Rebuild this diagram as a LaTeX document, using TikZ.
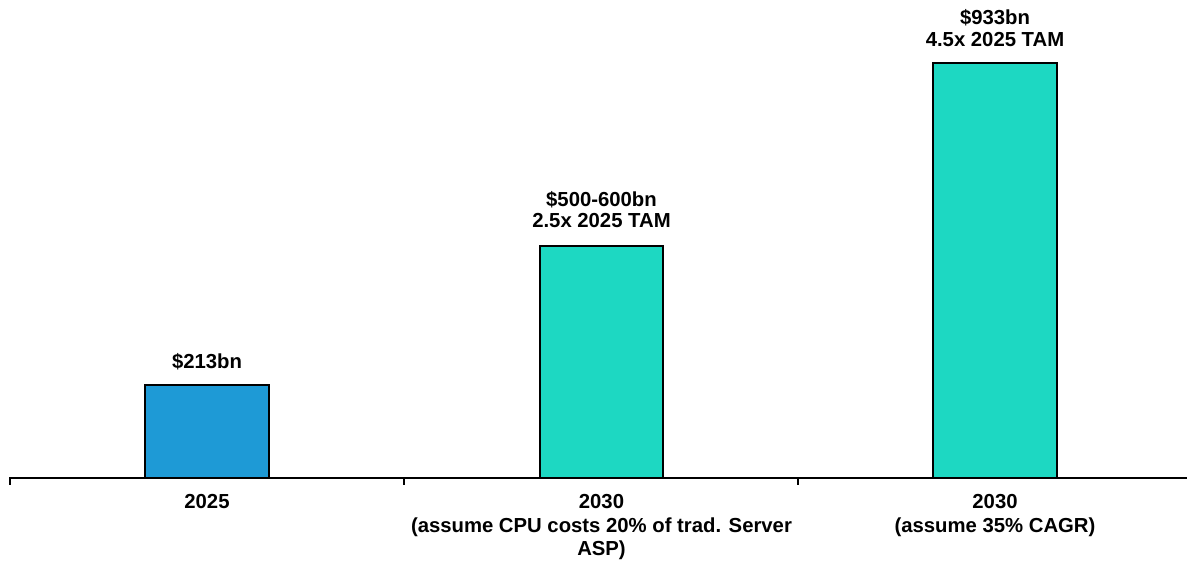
\documentclass[tikz,border=0pt]{standalone}
\usepackage{fontspec}
\setmainfont{Liberation Sans}
\definecolor{barblue}{HTML}{1E9AD6}
\definecolor{barteal}{HTML}{1DD8C2}
\begin{document}
\begin{tikzpicture}[x=1pt,y=-1pt,
  bar/.style={draw=black,line width=2pt},
  vallabel/.style={font=\fontsize{20.3}{21.5}\selectfont\bfseries,align=center,anchor=south,inner sep=0pt,text depth=0pt},
  catlabel/.style={font=\fontsize{20.3}{23.5}\selectfont\bfseries,align=center,anchor=north,inner sep=0pt},
  axisline/.style={line width=2pt}]
\useasboundingbox[fill=white] (0,0) rectangle (1187,562);
% bars
\filldraw[bar,fill=barblue] (145,478) rectangle (269,385);
\filldraw[bar,fill=barteal] (540,478) rectangle (663,246);
\filldraw[bar,fill=barteal] (933,478) rectangle (1057,63);
\coordinate (b1) at (207,385);
\coordinate (b2) at (601.5,246);
\coordinate (b3) at (995,63);
% value labels
\node[vallabel] (v1) at ([yshift=16pt]b1) {\$213bn};
\node[vallabel] (v2) at ([yshift=18pt]b2) {\$500-600bn\\2.5x 2025 TAM};
\node[vallabel] (v3) at ([yshift=16.5pt]b3) {\$933bn\\4.5x 2025 TAM};
% category axis
\draw[axisline] (10,478) -- (1187,478);
\foreach \x in {10,404,798} \draw[axisline] (\x,477) -- (\x,485);
\node[catlabel] (c1) at (207,494.5) {2025};
\node[catlabel] (c2) at (601.5,494.5) {2030\\(assume CPU costs 20\% of trad. Server\\ASP)};
\node[catlabel] (c3) at (995,494.5) {2030\\(assume 35\% CAGR)};
\end{tikzpicture}
\end{document}
